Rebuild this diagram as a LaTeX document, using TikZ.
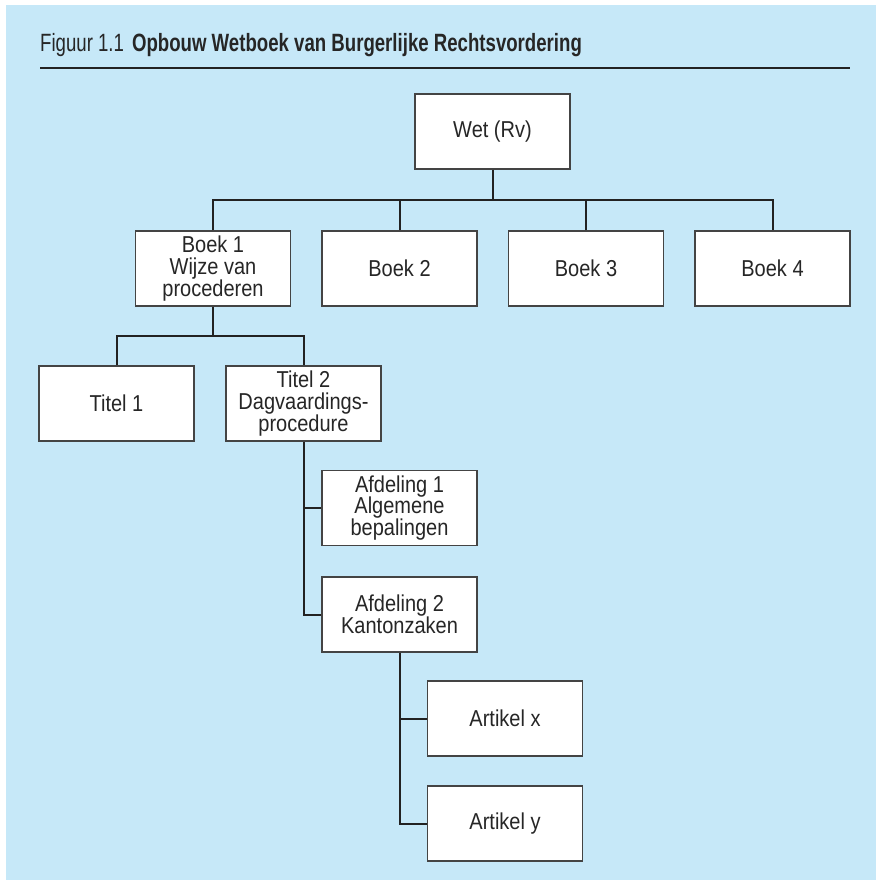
\documentclass[tikz,border=0pt]{standalone}
\usepackage{fontspec}
\setmainfont{Liberation Sans}
\newfontfamily\titlefont[FakeStretch=0.745]{Liberation Sans}
\newfontfamily\boxfont[FakeStretch=0.87]{Liberation Sans}
\definecolor{bgblue}{HTML}{C6E8F8}
\definecolor{linegray}{HTML}{222222}
\definecolor{boxline}{HTML}{444444}
\begin{document}
\begin{tikzpicture}[x=1pt,y=-1pt,
  boxnode/.style={draw=boxline,line width=1.2pt,fill=white,minimum width=155pt,minimum height=75pt,
    inner sep=0pt,align=center,font=\boxfont\fontsize{23}{21.7}\selectfont,text=black!85},
  conn/.style={draw=linegray,line width=2pt}]
\useasboundingbox (0,0) rectangle (876,880);
\fill[white] (0,0) rectangle (876,880);
\fill[bgblue] (6,5) rectangle (876,880);
\node[anchor=base west,inner sep=0pt,font=\titlefont\fontsize{25}{28}\selectfont,text=black!85] (title) at (40,52) {Figuur 1.1\hspace{8pt}\textbf{Opbouw Wetboek van Burgerlijke Rechtsvordering}};
\coordinate (rl) at (40,68);
\coordinate (rr) at (850,68);
\draw[draw=linegray,line width=2.5pt] (rl) -- (rr);

\node[boxnode] (wet) at (492.5,131.5) {Wet (Rv)};
\node[boxnode] (b1) at (213,268.5) {Boek 1\\Wijze van\\procederen};
\node[boxnode] (b2) at (399.5,268.5) {Boek 2};
\node[boxnode] (b3) at (586,268.5) {Boek 3};
\node[boxnode] (b4) at (772.5,268.5) {Boek 4};
\node[boxnode] (t1) at (116.5,403.5) {Titel 1};
\node[boxnode] (t2) at (303.5,403.5) {Titel 2\\Dagvaardings-\\procedure};
\node[boxnode] (a1) at (399.5,508) {Afdeling 1\\Algemene\\bepalingen};
\node[boxnode] (a2) at (399.5,614.5) {Afdeling 2\\Kantonzaken};
\node[boxnode] (ax) at (505,718.5) {Artikel x};
\node[boxnode] (ay) at (505,823.5) {Artikel y};

\coordinate (j1) at (492.5,200);
\coordinate (j2) at (213,336);
\draw[conn] (wet.south) -- (j1);
\draw[conn] (b1.north) |- (b4.north |- j1) -- (b4.north);
\draw[conn] (b2.north) -- (b2.north |- j1);
\draw[conn] (b3.north) -- (b3.north |- j1);
\draw[conn] (b1.south) -- (j2);
\draw[conn] (t1.north) |- (t2.north |- j2) -- (t2.north);
\draw[conn] (t2.south) |- (a2.west);
\draw[conn] (t2.south |- a1.west) -- (a1.west);
\draw[conn] (a2.south) |- (ay.west);
\draw[conn] (a2.south |- ax.west) -- (ax.west);
\end{tikzpicture}
\end{document}
